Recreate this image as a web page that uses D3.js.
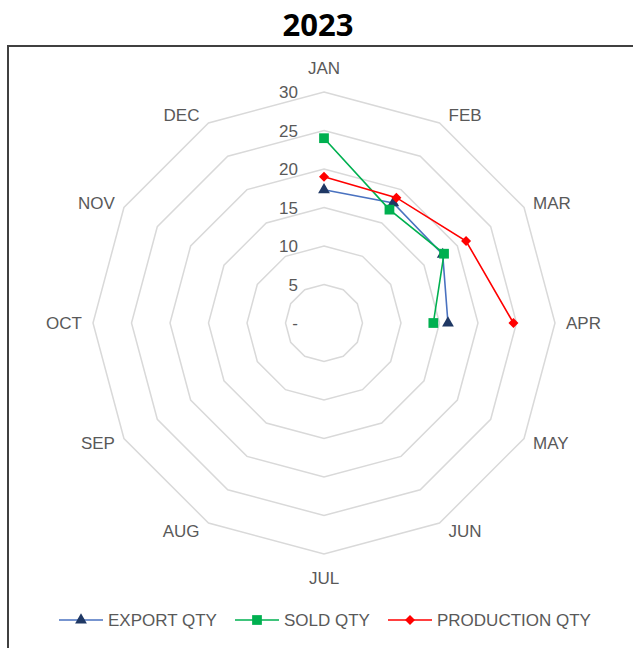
<!DOCTYPE html>
<html><head><meta charset="utf-8">
<script src="https://cdn.jsdelivr.net/npm/d3@7"></script>
<style>body{margin:0;background:#fff;} svg{display:block;}</style>
</head><body>
<svg id="c" width="633" height="648"></svg>
<script>
const months = ["JAN","FEB","MAR","APR","MAY","JUN","JUL","AUG","SEP","OCT","NOV","DEC"];
const exportQty = [17.3, 18.0, 17.8, 16.1];
const soldQty = [24.0, 17.0, 18.0, 14.2];
const productionQty = [19.0, 18.8, 21.3, 24.6];
const tickValues = [0, 5, 10, 15, 20, 25, 30];
const tickLabels = ["-", "5", "10", "15", "20", "25", "30"];
const seriesNames = ["EXPORT QTY", "SOLD QTY", "PRODUCTION QTY"];

const svg = d3.select("#c");
const cx = 324, cy = 323, R = 231;
const font = "'Liberation Sans', Arial, sans-serif";
const fs = 17;

svg.append("rect").attr("x", 8).attr("y", 46).attr("width", 640).attr("height", 620)
  .attr("fill", "#fff").attr("stroke", "#404040").attr("stroke-width", 2);

svg.append("text").attr("x", 318).attr("y", 36).attr("text-anchor", "middle")
  .attr("font-family", "'Open Sans', sans-serif").attr("font-weight", "bold").attr("font-size", 31)
  .attr("fill", "#000").text("2023");

const r = d3.scaleLinear().domain([0, 30]).range([0, R]);
const ang = d3.scalePoint().domain(months).range([0, 2 * Math.PI * 11 / 12]);
const pt = (m, v) => [cx + r(v) * Math.sin(ang(m)), cy - r(v) * Math.cos(ang(m))];

const g = svg.append("g");
tickValues.filter(v => v > 0).forEach(v => {
  g.append("path")
    .attr("d", d3.line()(months.map(m => pt(m, v))) + "Z")
    .attr("fill", "none").attr("stroke", "#d9d9d9").attr("stroke-width", 1.5);
});

tickValues.forEach((v, i) => {
  g.append("text").attr("x", cx - 26).attr("y", cy - r(v) + 6).attr("text-anchor", "end")
    .attr("font-family", font).attr("font-size", fs).attr("fill", "#595959").text(tickLabels[i]);
});

// month labels placed just outside each outer vertex
months.forEach(m => {
  const a = ang(m), s = Math.sin(a), c = Math.cos(a);
  const [vx, vy] = pt(m, 30);
  const t = g.append("text").attr("text-anchor", "middle")
    .attr("font-family", font).attr("font-size", fs).attr("fill", "#595959").text(m);
  const w = t.node().getComputedTextLength();
  let x, y;
  if (Math.abs(s) < 0.01) { x = vx; y = vy - Math.sign(c) * 24; }
  else {
    x = vx + Math.sign(s) * (w / 2 + 9 + (Math.abs(s) > 0.99 ? 2 : 0));
    y = vy - c * 9;
  }
  t.attr("x", x).attr("y", y + 6);
});

const diamond = d3.symbolSquare;
const series = [
  {name: seriesNames[0], values: exportQty, line: "#4a72c0", mark: "#1f3864", sym: d3.symbolTriangle, size: 60, rot: 0},
  {name: seriesNames[1], values: soldQty, line: "#00b050", mark: "#00b050", sym: d3.symbolSquare, size: 95, rot: 0},
  {name: seriesNames[2], values: productionQty, line: "#ff0000", mark: "#ff0000", sym: diamond, size: 50, rot: 45}
];

series.forEach(s => {
  const pts = s.values.map((v, i) => pt(months[i], v));
  g.append("path").attr("d", d3.line()(pts)).attr("fill", "none")
    .attr("stroke", s.line).attr("stroke-width", 1.6);
});
series.forEach(s => {
  s.values.forEach((v, i) => {
    const p = pt(months[i], v);
    g.append("path").attr("d", d3.symbol().type(s.sym).size(s.size)())
      .attr("transform", `translate(${p[0]},${p[1]}) rotate(${s.rot})`).attr("fill", s.mark);
  });
});

// legend
const legX = [59, 235, 388];
const leg = svg.append("g");
series.forEach((s, i) => {
  const x0 = legX[i], y0 = 620;
  leg.append("line").attr("x1", x0).attr("x2", x0 + 44).attr("y1", y0).attr("y2", y0)
    .attr("stroke", s.line).attr("stroke-width", 1.6);
  leg.append("path").attr("d", d3.symbol().type(s.sym).size(s.size)())
    .attr("transform", `translate(${x0 + 22},${y0}) rotate(${s.rot})`).attr("fill", s.mark);
  leg.append("text").attr("x", x0 + 49).attr("y", y0 + 6)
    .attr("font-family", font).attr("font-size", fs).attr("fill", "#595959").text(s.name);
});
</script>
</body></html>
